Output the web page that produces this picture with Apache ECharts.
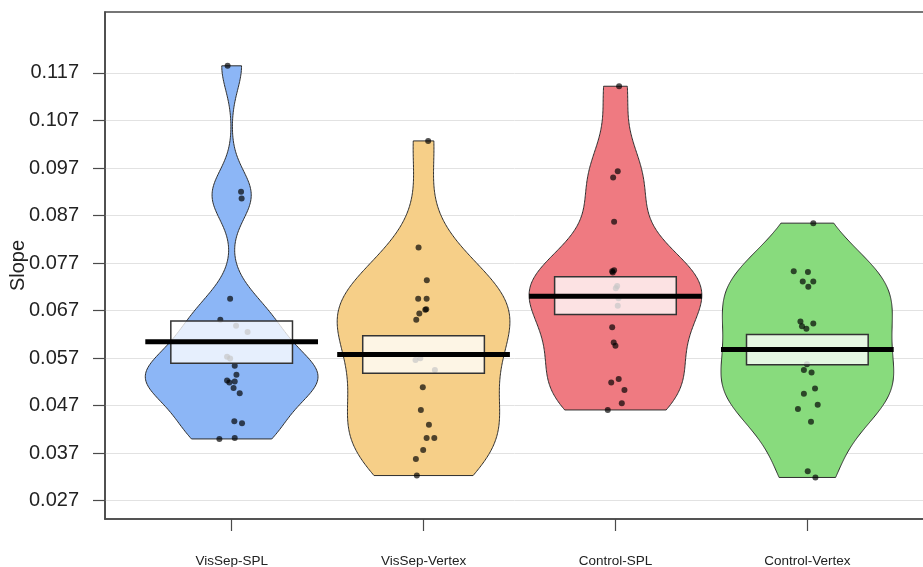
<!DOCTYPE html>
<html>
<head>
<meta charset="utf-8">
<script src="https://cdn.jsdelivr.net/npm/echarts@6/dist/echarts.min.js"></script>
<style>
  html, body { margin: 0; padding: 0; background: #ffffff; }
  #chart { width: 923px; height: 567px; }
</style>
</head>
<body>
<div id="chart"></div>
<script>
// Groups along the x axis
const groups = ['VisSep-SPL', 'VisSep-Vertex', 'Control-SPL', 'Control-Vertex'];

// Y tick values
const yTicks = [0.027, 0.037, 0.047, 0.057, 0.067, 0.077, 0.087, 0.097, 0.107, 0.117];

// Slope per subject, one array per group
const slopeVisSepSPL = [0.1185, 0.0920, 0.0906, 0.0695, 0.0651, 0.0638, 0.0625, 0.0573, 0.0569, 0.0554,
                        0.0535, 0.0523, 0.0519, 0.0521, 0.0507, 0.0496, 0.0437, 0.0433, 0.0400, 0.0402];
const slopeVisSepVertex = [0.1027, 0.0803, 0.0734, 0.0695, 0.0695, 0.0673, 0.0672, 0.0664, 0.0651, 0.0566,
                           0.0570, 0.0545, 0.0509, 0.0461, 0.0430, 0.0402, 0.0402, 0.0377, 0.0358, 0.0323];
const slopeControlSPL = [0.1142, 0.0963, 0.0950, 0.0857, 0.0755, 0.0753, 0.0750, 0.0722, 0.0717, 0.0696,
                         0.0680, 0.0635, 0.0603, 0.0596, 0.0519, 0.0526, 0.0503, 0.0475, 0.0461];
const slopeControlVertex = [0.0854, 0.0753, 0.0751, 0.0731, 0.0731, 0.0720, 0.0647, 0.0643, 0.0637, 0.0632,
                            0.0557, 0.0545, 0.0540, 0.0506, 0.0495, 0.0472, 0.0463, 0.0436, 0.0332, 0.0319];

// Horizontal jitter of each point (in category units)
const jitterVisSepSPL = [-0.021, 0.049, 0.052, -0.008, -0.059, 0.023, 0.083, -0.024, -0.008, 0.016,
                         0.025, -0.024, -0.012, 0.016, 0.010, 0.042, 0.014, 0.054, -0.064, 0.016];
const jitterVisSepVertex = [0.024, -0.026, 0.017, -0.028, 0.016, 0.014, 0.009, -0.022, -0.038, -0.042,
                            -0.017, 0.059, -0.004, -0.014, 0.028, 0.016, 0.056, -0.002, -0.040, -0.035];
const jitterControlSPL = [0.019, 0.012, -0.012, -0.007, -0.007, -0.017, -0.014, 0.009, 0.002, 0.016,
                          0.012, -0.017, -0.009, 0.000, -0.022, 0.017, 0.047, 0.033, -0.040];
const jitterControlVertex = [0.031, -0.071, 0.003, -0.024, 0.031, 0.005, -0.036, 0.031, -0.028, -0.005,
                             -0.002, -0.018, 0.022, 0.040, -0.018, 0.054, -0.049, 0.019, 0.002, 0.042];

// Inference band (lower / upper) per group
const bandLow = [0.0559, 0.0538, 0.0662, 0.0556];
const bandHigh = [0.0648, 0.0617, 0.0741, 0.0620];

// Bean colours per group
const beanColors = ['#8cb6f6', '#f6cf88', '#ef7a81', '#88db7d'];

const slopes = [slopeVisSepSPL, slopeVisSepVertex, slopeControlSPL, slopeControlVertex];
const jitters = [jitterVisSepSPL, jitterVisSepVertex, jitterControlSPL, jitterControlVertex];

const BEAN_HALF = 0.45;   // max half-width of a bean
const BAND_HALF = 0.317;  // half-width of the inference band
const FONT = '"Liberation Sans", Arial, Helvetica, sans-serif';

function mean(a) { return a.reduce((s, v) => s + v, 0) / a.length; }

function quantile(sorted, p) {
  const h = (sorted.length - 1) * p;
  const lo = Math.floor(h);
  const hi = Math.min(lo + 1, sorted.length - 1);
  return sorted[lo] + (h - lo) * (sorted[hi] - sorted[lo]);
}

// Silverman's rule of thumb (nrd0)
function bandwidth(values) {
  const n = values.length;
  const m = mean(values);
  const sd = Math.sqrt(values.reduce((s, v) => s + (v - m) * (v - m), 0) / (n - 1));
  const sorted = values.slice().sort((a, b) => a - b);
  const iqr = quantile(sorted, 0.75) - quantile(sorted, 0.25);
  const lo = Math.min(sd, iqr / 1.34);
  return 0.9 * lo * Math.pow(n, -0.2);
}

// Gaussian kernel density outline, cut at the data range and scaled to max 1
function beanOutline(values) {
  const bw = bandwidth(values);
  const lo = Math.min(...values), hi = Math.max(...values);
  const steps = 240;
  const pts = [];
  let maxD = 0;
  for (let k = 0; k <= steps; k++) {
    const y = lo + (hi - lo) * k / steps;
    let d = 0;
    for (const v of values) {
      const z = (y - v) / bw;
      d += Math.exp(-0.5 * z * z);
    }
    pts.push([y, d]);
    if (d > maxD) maxD = d;
  }
  return pts.map(([y, d]) => [y, d / maxD]);
}

const outlines = slopes.map(beanOutline);
const means = slopes.map(mean);

const option = {
  animation: false,
  backgroundColor: '#ffffff',
  grid: {
    left: 105, top: 12, width: 829, height: 507,
    outerBoundsMode: 'none', containLabel: false,
    show: true, borderColor: '#4a4a4a', borderWidth: 1.6, backgroundColor: 'transparent'
  },
  xAxis: {
    type: 'value', min: 0.34, max: 4.66,
    axisLine: { show: true, onZero: false, lineStyle: { color: '#4a4a4a', width: 1.6 } },
    axisTick: { show: true, customValues: [1, 2, 3, 4], length: 12, lineStyle: { color: '#4a4a4a', width: 1.2 } },
    axisLabel: {
      customValues: [1, 2, 3, 4],
      formatter: v => groups[Math.round(v) - 1],
      fontFamily: FONT, fontSize: 13.5, color: '#222', margin: 35
    },
    splitLine: { show: false }
  },
  yAxis: {
    type: 'value', min: 0.02316, max: 0.12982,
    name: 'Slope', nameLocation: 'middle', nameRotate: 90, nameGap: 77,
    nameMoveOverlap: false,
    nameTextStyle: { fontFamily: FONT, fontSize: 20, color: '#222' },
    axisLine: { show: true, onZero: false, lineStyle: { color: '#4a4a4a', width: 1.6 } },
    axisTick: { show: true, customValues: yTicks, length: 12, lineStyle: { color: '#4a4a4a', width: 1.2 } },
    axisLabel: {
      customValues: yTicks,
      formatter: v => v.toFixed(3),
      fontFamily: FONT, fontSize: 20, color: '#222', margin: 26
    },
    splitLine: { show: true, lineStyle: { color: '#e2e2e2', width: 1 } }
  },
  series: [
    // Beans
    {
      type: 'custom', z: 2,
      data: groups.map((g, i) => [i + 1, means[i]]),
      renderItem: function (params, api) {
        const i = params.dataIndex;
        const cx = i + 1;
        const ol = outlines[i];
        const pts = [];
        for (const [y, w] of ol) pts.push(api.coord([cx + BEAN_HALF * w, y]));
        for (let k = ol.length - 1; k >= 0; k--) pts.push(api.coord([cx - BEAN_HALF * ol[k][1], ol[k][0]]));
        return {
          type: 'polygon',
          shape: { points: pts },
          style: { fill: beanColors[i], stroke: '#2e2e2e', lineWidth: 1 }
        };
      }
    },
    // Raw points
    {
      type: 'scatter', z: 3,
      symbol: 'circle', symbolSize: 6,
      itemStyle: { color: 'rgba(0,0,0,0.85)', borderWidth: 0 },
      data: slopes.flatMap((arr, i) => arr.map((v, k) => [i + 1 + jitters[i][k], v]))
    },
    // Inference bands
    {
      type: 'custom', z: 4,
      data: groups.map((g, i) => [i + 1, bandLow[i], bandHigh[i]]),
      renderItem: function (params, api) {
        const cx = api.value(0);
        const p1 = api.coord([cx - BAND_HALF, api.value(2)]);
        const p2 = api.coord([cx + BAND_HALF, api.value(1)]);
        return {
          type: 'rect',
          shape: { x: p1[0], y: p1[1], width: p2[0] - p1[0], height: p2[1] - p1[1] },
          style: { fill: 'rgba(255,255,255,0.78)', stroke: '#333333', lineWidth: 1.5 }
        };
      }
    },
    // Means
    {
      type: 'custom', z: 5,
      data: groups.map((g, i) => [i + 1, means[i]]),
      renderItem: function (params, api) {
        const cx = api.value(0);
        const a = api.coord([cx - BEAN_HALF, api.value(1)]);
        const b = api.coord([cx + BEAN_HALF, api.value(1)]);
        return {
          type: 'line',
          shape: { x1: a[0], y1: a[1], x2: b[0], y2: b[1] },
          style: { stroke: '#000000', lineWidth: 5 }
        };
      }
    }
  ]
};

const chart = echarts.init(document.getElementById('chart'), null, { renderer: 'canvas' });
chart.setOption(option);
</script>
</body>
</html>
